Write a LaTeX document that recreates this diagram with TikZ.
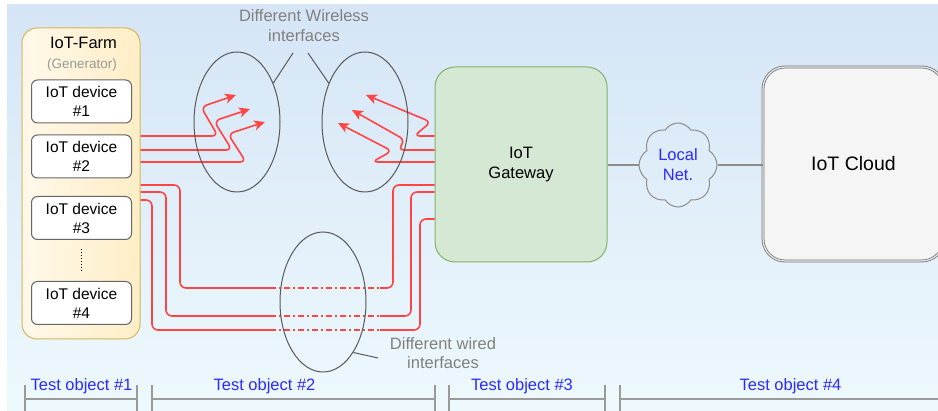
\documentclass[tikz,border=0pt]{standalone}
\usepackage{fontspec}
\setmainfont{Liberation Sans}
\usetikzlibrary{shapes.geometric,shapes.symbols,arrows.meta}

\definecolor{bgtop}{HTML}{D5E5F6}
\definecolor{bgbot}{HTML}{EEF9FD}
\definecolor{farmedge}{HTML}{D6B656}
\definecolor{farmleft}{HTML}{FFF8EA}
\definecolor{farmright}{HTML}{FFEEC6}
\definecolor{gwfill}{HTML}{D5E8D4}
\definecolor{gwedge}{HTML}{82B366}
\definecolor{wirered}{HTML}{FF4444}
\definecolor{labelgray}{HTML}{808080}
\definecolor{labelblue}{HTML}{2B2BFF}
\definecolor{rulegray}{HTML}{9A9A9A}
\definecolor{linkgray}{HTML}{8C8C8C}

\begin{document}
\begin{tikzpicture}[
  x=1pt, y=-1pt,
  txt/.style={font=\fontsize{16.5}{20}\selectfont, align=center, inner sep=0pt},
  farmbox/.style={draw=farmedge, line width=1pt, rounded corners=15pt,
    left color=farmleft, right color=farmright,
    minimum width=118pt, minimum height=311pt, inner sep=0pt},
  devbox/.style={draw=black!60, line width=1pt, fill=white, rounded corners=6pt,
    minimum width=100pt, minimum height=43pt, inner sep=0pt, align=center,
    font=\fontsize{15.5}{19}\selectfont},
  gwbox/.style={draw=gwedge, line width=1pt, fill=gwfill, rounded corners=20pt,
    minimum width=172pt, minimum height=195pt, inner sep=0pt, align=center,
    font=\fontsize{16.5}{20}\selectfont},
  cloudbox/.style={draw=black!55, line width=0.8pt, double=white!92!black,
    double distance=1.2pt, fill=black!4, rounded corners=22pt,
    minimum width=181pt, minimum height=194pt, inner sep=0pt,
    font=\fontsize{19.5}{23}\selectfont},
  netcloud/.style={cloud, cloud puffs=8, cloud puff arc=115, cloud ignores aspect,
    draw=linkgray, line width=1pt, minimum width=78pt, minimum height=84pt,
    inner sep=0pt, align=center, text=labelblue, font=\fontsize{16.5}{20}\selectfont},
  iface/.style={ellipse, draw=black!65, line width=1pt, minimum width=86pt,
    minimum height=140pt, inner sep=0pt},
  wire/.style={draw=wirered, line width=1.6pt, rounded corners=6pt},
  radio/.style={wire, -{Stealth[length=11pt, width=10pt, inset=3pt]}},
  unseen/.style={wire, dash pattern=on 6pt off 3pt on 2pt off 3pt},
  link/.style={draw=linkgray, line width=1.5pt},
  callout/.style={draw=black!65, line width=1pt},
  ruler/.style={draw=rulegray, line width=1.5pt},
  objlabel/.style={font=\fontsize{16.5}{20}\selectfont, text=labelblue,
    anchor=base, inner sep=0pt}
]
\useasboundingbox (0,0) rectangle (938,411);
\fill[white] (0,0) rectangle (938,411);
\shade[top color=bgtop, bottom color=bgbot] (7,5) rectangle (938,411);

% ---------- traffic generator with its devices ----------
\node[farmbox] (farm) at (81,183.5) {};
\node[txt] (farmtitle) at (83.5,43) {IoT-Farm};
\node[txt, text=black!40, font=\fontsize{13.5}{16}\selectfont] (farmsub) at (82,65) {(Generator)};
\node[devbox] (d1) at (81.5,101.5) {IoT device\\\#1};
\node[devbox] (d2) at (81.5,156.5) {IoT device\\\#2};
\node[devbox] (d3) at (81.5,218) {IoT device\\\#3};
\node[devbox] (d4) at (81.5,303) {IoT device\\\#4};
\draw[line width=1.3pt, dash pattern=on 1.4pt off 1.6pt, shorten <=9pt, shorten >=10pt]
  (d3.south) -- (d4.north);

% ---------- gateway, local network and cloud ----------
\node[gwbox] (gw) at (521,164.5) {IoT\\Gateway};
\node[netcloud] (net) at (678,165) {Local\\Net.};
\node[cloudbox] (iotcloud) at (853.5,164) {IoT Cloud};
\draw[link] (gw.east |- net.west) -- (net.west);
\draw[link] (net.east) -- (net.east -| iotcloud.west);

% ---------- radio links (arrow tips) ----------
\coordinate (tl1) at (236,95);
\coordinate (tl2) at (250,109);
\coordinate (tl3) at (265,122);
\coordinate (tr1) at (366,95);
\coordinate (tr2) at (352,110);
\coordinate (tr3) at (338,123);

\draw[radio] ([yshift=47.5pt]farm.east) -- (218,136) -- (201,107) -- (tl1);
\draw[radio] ([yshift=33.5pt]farm.east) -- (232,150) -- (214,121) -- (tl2);
\draw[radio] ([yshift=21.5pt]farm.east) -- (246,162) -- (228,134) -- (tl3);

\draw[radio] ([yshift=28.5pt]gw.west) -- (414,136) -- (431,122) -- (tr1);
\draw[radio] ([yshift=14.5pt]gw.west) -- (398,150) -- (405,140) -- (tr2);
\draw[radio] ([yshift=2.5pt]gw.west) -- (372,162) -- (392,151) -- (tr3);

% ---------- wired links ----------
\draw[wire] ([yshift=-1.5pt]farm.east) -| (180,288) -- (270,288);
\draw[unseen] (270,288) -- (380,288);
\draw[wire] (380,288) -| (393,185) -- ([yshift=-20.5pt]gw.west);

\draw[wire] ([yshift=-8.5pt]farm.east) -| (166,316) -- (270,316);
\draw[unseen] (270,316) -- (380,316);
\draw[wire] (380,316) -| (411,192) -- ([yshift=-27.5pt]gw.west);

\draw[wire] ([yshift=-16.5pt]farm.east) -| (152,330) -- (270,330);
\draw[unseen] (270,330) -- (380,330);
\draw[wire] (380,330) -| (420,219) -- ([yshift=-54.5pt]gw.west);

% ---------- interface groups ----------
\node[iface] (e1) at (237,122) {};
\node[iface] (e2) at (365,122) {};
\node[iface] (e3) at (323,302) {};

\node[txt, text=labelgray] (wlabel) at (304,26) {Different Wireless\\interfaces};
\coordinate (wl1) at (293,53);
\coordinate (wl2) at (308,53);
\draw[callout] (e1.47) -- (wl1);
\draw[callout] (e2.133) -- (wl2);

\node[txt, text=labelgray, font=\fontsize{16.5}{19}\selectfont] (wdlabel) at (443,353) {Different wired\\interfaces};
\coordinate (wd1) at (378,358);
\draw[callout] (e3.-59) -- (wd1);

% ---------- test object ranges ----------
\draw[ruler] (25,385) -- (25,411);
\draw[ruler] (137,385) -- (137,411);
\draw[ruler] (25,399) -- (137,399);
\draw[ruler] (152,385) -- (152,411);
\draw[ruler] (435,385) -- (435,411);
\draw[ruler] (152,399) -- (435,399);
\draw[ruler] (449,385) -- (449,411);
\draw[ruler] (605,385) -- (605,411);
\draw[ruler] (449,399) -- (605,399);
\draw[ruler] (620,385) -- (620,411);
\draw[ruler] (620,399) -- (940,399);

\node[objlabel] (to1) at (81.5,391) {Test object \#1};
\node[objlabel] (to2) at (264.5,391) {Test object \#2};
\node[objlabel] (to3) at (522,391) {Test object \#3};
\node[objlabel] (to4) at (790.5,391) {Test object \#4};
\end{tikzpicture}
\end{document}
